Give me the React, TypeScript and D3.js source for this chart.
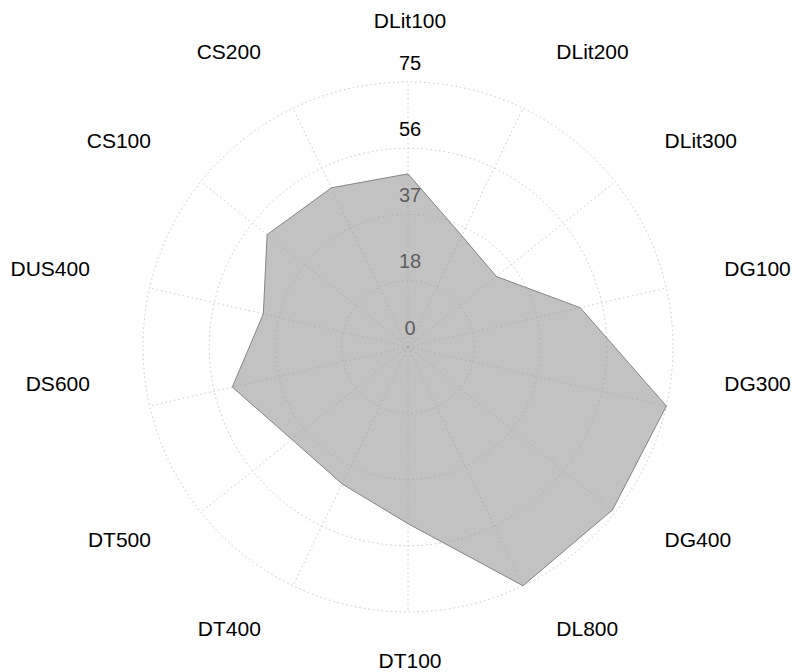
import React from "react";
import * as d3 from "d3";

const categories = ["DLit100","DLit200","DLit300","DG100","DG300","DG400","DL800","DT100","DT400","DT500","DS600","DUS400","CS100","CS200"];
const values = [49, 35, 32, 50, 75, 74, 75, 50, 43, 42, 51, 42, 51, 50];
const tickValues = [0, 18.75, 37.5, 56.25, 75];
const tickLabels = ["0", "18", "37", "56", "75"];

const W = 792, H = 672;
const cx = 408, cy = 347;
const R = 265;
const FONT = "'Liberation Sans', Arial, Helvetica, sans-serif";

export default function App() {
  const n = categories.length;
  const r = d3.scaleLinear().domain([0, 75]).range([0, R]);
  const angle = d3.scaleLinear().domain([0, n]).range([0, 2 * Math.PI]);

  const radar = d3
    .lineRadial<number>()
    .angle((_, i) => angle(i))
    .radius((d) => r(d))
    .curve(d3.curveLinearClosed);

  const labelPos = (i: number) => {
    const a = angle(i);
    const s = Math.sin(a), c = Math.cos(a);
    let y = cy - 7 - 320 * c;
    if (c < 0 && c > -0.3) y -= 28;
    let x: number, anchor: string;
    if (Math.abs(s) < 0.1) { x = cx + 2; anchor = "middle"; }
    else if (s > 0) { x = cx + 316 * s + 12 - 4 * s * s; anchor = "start"; }
    else { x = cx + 316 * s - 10; anchor = "end"; }
    return { x, y: y + 7.5, anchor };
  };

  return (
    <svg width={W} height={H} style={{ position: "absolute", left: 0, top: 0, background: "#fff" }}>
      <g transform={`translate(${cx},${cy})`}>
        {tickValues.filter((t) => t > 0).map((t) => (
          <circle key={t} r={r(t)} fill="none" stroke="#c4c4c4" strokeWidth={1} strokeDasharray="1.5 3" />
        ))}
        {categories.map((c, i) => {
          const a = angle(i);
          return (
            <line key={c} x1={0} y1={0} x2={r(75) * Math.sin(a)} y2={-r(75) * Math.cos(a)}
              stroke="#c8c8c8" strokeWidth={1} strokeDasharray="1.5 3" />
          );
        })}
        {tickValues.map((t, i) => (
          <text key={t} x={2} y={-r(t) - 20 + 7.5} textAnchor="middle" fontFamily={FONT} fontSize={20} fill="#000">
            {tickLabels[i]}
          </text>
        ))}
        <path d={radar(values) || ""} fill="#9a9a9a" fillOpacity={0.6} stroke="#858585" strokeWidth={1} />
      </g>
      {categories.map((c, i) => {
        const p = labelPos(i);
        return (
          <text key={c} x={p.x} y={p.y} textAnchor={p.anchor as any} fontFamily={FONT} fontSize={21} fill="#000">
            {c}
          </text>
        );
      })}
    </svg>
  );
}
